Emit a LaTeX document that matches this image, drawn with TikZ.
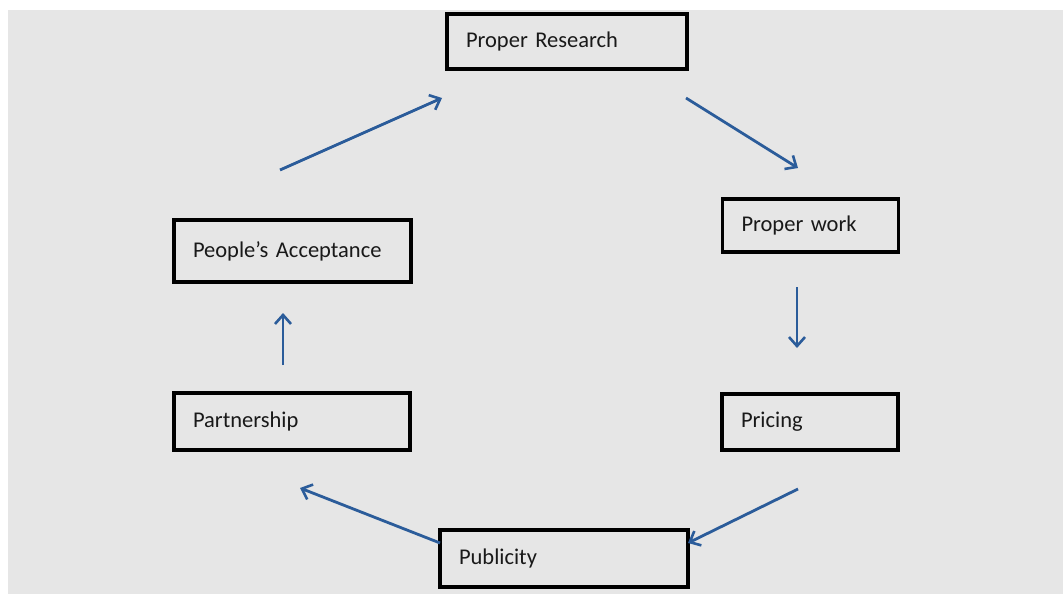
\documentclass[tikz,border=0pt]{standalone}
\usepackage{fontspec}
\setmainfont{Carlito}
\usetikzlibrary{arrows.meta}
\definecolor{bg}{HTML}{E6E6E6}
\definecolor{arr}{HTML}{2B5C9A}
\begin{document}
\begin{tikzpicture}[x=1pt,y=-1pt,
  box/.style={draw=black,line width=3.6pt,fill=bg,inner xsep=19pt,inner ysep=0pt,
    align=left,font=\fontsize{22.5}{24}\selectfont,text=black!90},
  flow/.style={draw=arr,line width=2.8pt,-{Straight Barb[length=9pt,width=16pt,line width=2.6pt]}}]
\useasboundingbox (0,0) rectangle (1063,594);
\fill[white] (0,0) rectangle (1063,594);
\fill[bg] (8,10) rectangle (1063,594);
\node[box,minimum width=240pt,minimum height=55pt,text width=202pt] (research) at (567,41.5) {Proper Research};
\node[box,minimum width=176pt,minimum height=53pt,text width=138pt] (work) at (810.5,225.5) {Proper work};
\node[box,minimum width=176pt,minimum height=56pt,text width=138pt] (pricing) at (810,422) {Pricing};
\node[box,minimum width=248pt,minimum height=57pt,text width=210pt] (publicity) at (564,558.5) {Publicity};
\node[box,minimum width=236pt,minimum height=57pt,text width=198pt] (partner) at (292,421.5) {Partnership};
\node[box,minimum width=237pt,minimum height=62pt,text width=199pt] (accept) at (292.5,251) {People’s Acceptance\\[4pt]};
\coordinate (a1s) at (280,170); \coordinate (a1e) at (442,98);
\coordinate (a2s) at (686,98); \coordinate (a2e) at (798,168);
\coordinate (a3s) at (797,287); \coordinate (a3e) at (797,348);
\coordinate (a4s) at (798,489); \coordinate (a4e) at (688,543);
\coordinate (a5s) at (440,543); \coordinate (a5e) at (300,488);
\coordinate (a6s) at (283,365); \coordinate (a6e) at (283,313);
\draw[flow] (a1s) -- (a1e);
\draw[flow] (a2s) -- (a2e);
\draw[flow] (a3s) -- (a3e);
\draw[flow] (a4s) -- (a4e);
\draw[flow] (a5s) -- (a5e);
\draw[flow] (a6s) -- (a6e);
\end{tikzpicture}
\end{document}
